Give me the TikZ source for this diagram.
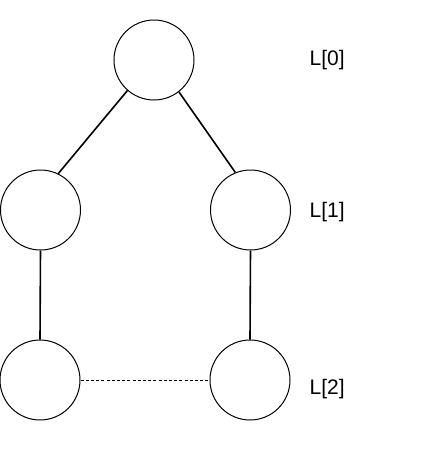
\documentclass[tikz,border=0pt]{standalone}
\usepackage{fontspec}
\setmainfont{Liberation Sans}
\begin{document}
\begin{tikzpicture}[x=1pt,y=-1pt,
  vertex/.style={draw=black,line width=1pt,circle,minimum size=80pt,inner sep=0pt},
  levellabel/.style={anchor=base west,inner sep=0pt,font=\fontsize{21}{25}\selectfont},
  link/.style={line width=1.6pt},
  weaklink/.style={line width=0.9pt,dash pattern=on 3pt off 2.2pt}]
  \useasboundingbox[fill=white] (0,0) rectangle (431,451);

  % tree vertices
  \node[vertex] (root) at (154,60) {};
  \node[vertex] (midL) at (40.5,210) {};
  \node[vertex] (midR) at (250.5,210) {};
  \node[vertex] (lowL) at (40,380) {};
  \node[vertex] (lowR) at (250,380) {};

  % level labels
  \node[levellabel] (lab0) at (309.5,65.7) {L[0]};
  \node[levellabel] (lab1) at (309.5,217.7) {L[1]};
  \node[levellabel] (lab2) at (309.5,394.7) {L[2]};

  % connections
  \draw[link] (root.229) -- (midL.64);
  \draw[link] (root.308) -- (midR.112);
  \draw[link] (midL.south) -- (lowL.north);
  \draw[link] (midR.south) -- (lowR.north);
  \draw[weaklink] (lowL.east) -- (lowR.west);
\end{tikzpicture}
\end{document}
